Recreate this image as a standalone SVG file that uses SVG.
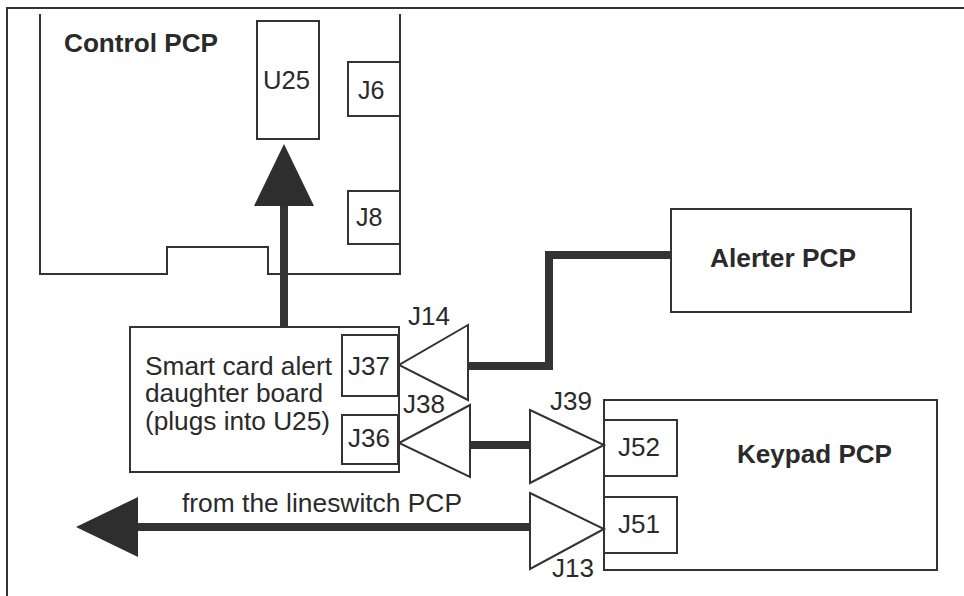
<svg xmlns="http://www.w3.org/2000/svg" width="964" height="596" viewBox="0 0 964 596">
<style>
.ln{fill:none;stroke:#333;stroke-width:2}
.thick{fill:none;stroke:#333;stroke-width:8}
.t{font-family:"Liberation Sans",Arial,sans-serif;font-size:25px;fill:#2a2a2a}
.b{font-weight:bold}
</style>
<defs>
<marker id="head" markerUnits="userSpaceOnUse" markerWidth="62" markerHeight="62" refX="0" refY="30" orient="auto" viewBox="0 0 62 62">
<path d="M0,0 L62,30 L0,60 z" fill="#2e2e2e"/>
</marker>
</defs>
<rect width="964" height="596" fill="#ffffff"/>
<g id="frame">
<path class="ln" d="M7,596 V8 H964"/>
</g>
<g id="control-pcp">
<path class="ln" d="M40,14 V274 H167 V247 H268 V274 H400 V14"/>
<text class="t b" x="64" y="52" textLength="154" lengthAdjust="spacingAndGlyphs">Control PCP</text>
</g>
<g id="u25">
<rect class="ln" x="257" y="21" width="62" height="118"/>
<text class="t" x="263" y="89" textLength="47" lengthAdjust="spacingAndGlyphs">U25</text>
</g>
<g id="j6">
<rect class="ln" x="348" y="62" width="52" height="54"/>
<text class="t" x="358" y="99">J6</text>
</g>
<g id="j8">
<rect class="ln" x="348" y="191" width="52" height="53"/>
<text class="t" x="356" y="226">J8</text>
</g>
<g id="daughter-board">
<rect class="ln" x="130" y="327" width="269" height="145"/>
<text class="t" x="145" y="375" textLength="187" lengthAdjust="spacingAndGlyphs">Smart card alert</text>
<text class="t" x="145" y="402" textLength="178" lengthAdjust="spacingAndGlyphs">daughter board</text>
<text class="t" x="145" y="430" textLength="185" lengthAdjust="spacingAndGlyphs">(plugs into U25)</text>
</g>
<g id="j37">
<rect class="ln" x="342" y="335" width="56" height="61"/>
<text class="t" x="348" y="375" textLength="42" lengthAdjust="spacingAndGlyphs">J37</text>
</g>
<g id="j36">
<rect class="ln" x="342" y="415" width="56" height="49"/>
<text class="t" x="348" y="447" textLength="42" lengthAdjust="spacingAndGlyphs">J36</text>
</g>
<g id="j14">
<path class="ln" d="M468,325 L399,365 L468,400 Z"/>
<text class="t" x="408" y="325" textLength="42" lengthAdjust="spacingAndGlyphs">J14</text>
</g>
<g id="j38">
<path class="ln" d="M470,405 L399,443 L470,477 Z"/>
<text class="t" x="403" y="413" textLength="42" lengthAdjust="spacingAndGlyphs">J38</text>
</g>
<g id="alerter-pcp">
<rect class="ln" x="671" y="209" width="240" height="103"/>
<text class="t b" x="710" y="267" textLength="146" lengthAdjust="spacingAndGlyphs">Alerter PCP</text>
</g>
<g id="keypad-pcp">
<rect class="ln" x="604" y="400" width="333" height="170"/>
<text class="t b" x="737" y="463" textLength="155" lengthAdjust="spacingAndGlyphs">Keypad PCP</text>
</g>
<g id="j52">
<rect class="ln" x="604" y="420" width="73" height="56"/>
<text class="t" x="618" y="456" textLength="42" lengthAdjust="spacingAndGlyphs">J52</text>
</g>
<g id="j51">
<rect class="ln" x="604" y="497" width="73" height="56"/>
<text class="t" x="618" y="533" textLength="42" lengthAdjust="spacingAndGlyphs">J51</text>
</g>
<g id="j39">
<path class="ln" d="M530,410 L604,445 L530,483 Z"/>
<text class="t" x="550" y="410" textLength="42" lengthAdjust="spacingAndGlyphs">J39</text>
</g>
<g id="j13">
<path class="ln" d="M530,493 L604,529 L530,569 Z"/>
<text class="t" x="552" y="577" textLength="42" lengthAdjust="spacingAndGlyphs">J13</text>
</g>
<g id="connectors">
<line class="thick" x1="284" y1="327" x2="284" y2="206" marker-end="url(#head)"/>
<polyline class="thick" points="468,366 549,366 549,255 671,255"/>
<line class="thick" x1="470" y1="445" x2="530" y2="445"/>
<line class="thick" x1="530" y1="527" x2="138" y2="527" marker-end="url(#head)"/>
<text class="t" x="182" y="512" textLength="280" lengthAdjust="spacingAndGlyphs">from the lineswitch PCP</text>
</g>
</svg>
